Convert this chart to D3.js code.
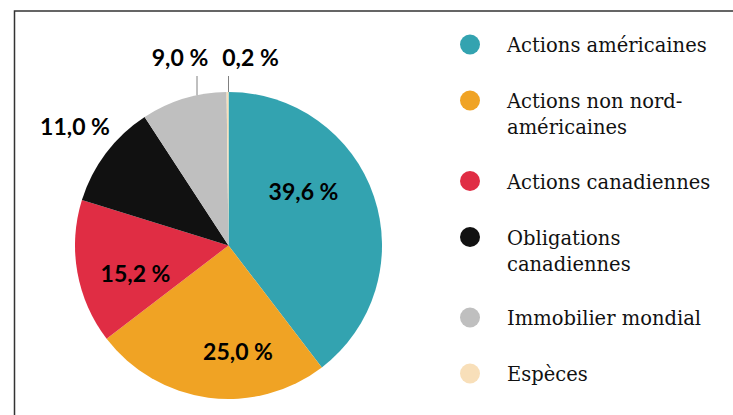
<!DOCTYPE html>
<html>
<head>
<meta charset="utf-8">
<script src="https://cdn.jsdelivr.net/npm/d3@7"></script>
<style>
  html, body { margin: 0; padding: 0; background: #fff; }
  svg { display: block; }
</style>
</head>
<body>
<svg id="chart" width="733" height="415"></svg>
<script>
// data
const categories = ['Actions américaines', 'Actions non nord-américaines', 'Actions canadiennes',
  'Obligations canadiennes', 'Immobilier mondial', 'Espèces']
const values = [39.6, 25.0, 15.2, 11.0, 9.0, 0.2]
const legendLines = [['Actions américaines'], ['Actions non nord-', 'américaines'], ['Actions canadiennes'],
  ['Obligations', 'canadiennes'], ['Immobilier mondial'], ['Espèces']]
const colors = ['#33a3b0', '#f0a324', '#e02d44', '#111111', '#bfbfbf', '#f8dfb9']

const svg = d3.select('#chart')
const cx = 228.5, cy = 245.5, radius = 153.5

// frame (left and top only)
svg.append('path')
  .attr('d', 'M14.5,415 L14.5,11 L733,11')
  .attr('fill', 'none').attr('stroke', '#333').attr('stroke-width', 1.5)

const pie = d3.pie().sort(null).value(d => d)
const arc = d3.arc().innerRadius(0).outerRadius(radius)
const arcs = pie(values)

const g = svg.append('g').attr('transform', `translate(${cx},${cy})`)

g.selectAll('path.slice').data(arcs)
  .enter().append('path')
  .attr('class', 'slice')
  .attr('d', arc)
  .attr('fill', (d, i) => colors[i])

const fmt = v => d3.format('.1f')(v).replace('.', ',') + ' %'

// label offsets from pie centre (text centre, baseline)
const labelPos = [[75, -46], [9.5, 114.5], [-93, 36.5], [-153.5, -110.5], [-48.5, -179.5], [22, -179.5]]
// leader lines for the small outside slices: x offset where the line meets the pie edge
const leaders = [null, null, null, null, -31.5, 0]

g.selectAll('line.leader').data(leaders.map((lx, i) => ({ lx, i })).filter(d => d.lx !== null))
  .enter().append('line')
  .attr('class', 'leader')
  .attr('x1', d => d.lx).attr('x2', d => d.lx)
  .attr('y1', d => labelPos[d.i][1] + 10)
  .attr('y2', d => -Math.sqrt(radius * radius - d.lx * d.lx))
  .attr('stroke', '#808080').attr('stroke-width', 1)

g.selectAll('text.val').data(arcs)
  .enter().append('text')
  .attr('class', 'val')
  .attr('x', (d, i) => labelPos[i][0])
  .attr('y', (d, i) => labelPos[i][1])
  .attr('text-anchor', 'middle')
  .style('font-family', 'Lato, "Open Sans", sans-serif')
  .style('font-weight', 'bold')
  .style('font-size', '23px')
  .attr('fill', '#000')
  .text(d => fmt(d.data))

// legend
const lg = svg.append('g')
let ly = 44.5
const rows = legendLines.map((lines, i) => {
  const r = { i, lines, y: ly }
  ly += 56 + 24.5 * (lines.length - 1)
  return r
})

const item = lg.selectAll('g.item').data(rows)
  .enter().append('g').attr('class', 'item')

item.append('circle')
  .attr('cx', 470).attr('cy', d => d.y).attr('r', 10)
  .attr('fill', d => colors[d.i])

item.append('text')
  .attr('x', 507)
  .attr('y', d => d.y + 7.5)
  .style('font-family', '"DejaVu Serif", serif')
  .style('font-size', '19.5px')
  .attr('fill', '#111')
  .selectAll('tspan').data(d => d.lines)
  .enter().append('tspan')
  .attr('x', 507)
  .attr('dy', (d, j) => j === 0 ? 0 : 26)
  .text(d => d)
</script>
</body>
</html>
